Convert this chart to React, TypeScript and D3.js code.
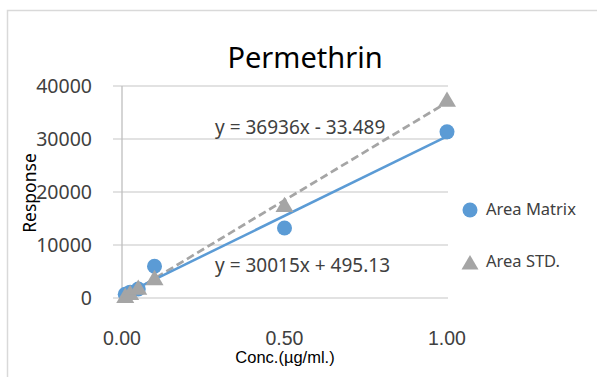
import React from "react";
import * as d3 from "d3";

// Concentration levels (µg/ml)
const concentrations = [0.01, 0.025, 0.05, 0.1, 0.5, 1.0];
// Peak areas
const areaMatrix = [700, 1100, 1700, 6000, 13200, 31350];
const areaStd = [350, 900, 1900, 3700, 17500, 37350];

// Linear fits (slope, intercept)
const fitMatrix = { slope: 30015, intercept: 495.13, label: "y = 30015x + 495.13" };
const fitStd = { slope: 36936, intercept: -33.489, label: "y = 36936x - 33.489" };

const yTicks = [0, 10000, 20000, 30000, 40000];
const xTicks = [0, 0.5, 1.0];

const seriesNames = ["Area Matrix", "Area STD."];
const BLUE = "#5b9bd5";
const GRAY = "#a5a5a5";
const FONT = "'Noto Sans', sans-serif";
const COMPACT_FONT = "'Liberation Sans', Arial, sans-serif";

export default function App() {
  const W = 597;
  const H = 377;
  const x = d3.scaleLinear().domain([0, 1]).range([122, 447]);
  const y = d3.scaleLinear().domain([0, 40000]).range([298, 86]);

  const xMin = d3.min(concentrations) as number;
  const xMax = d3.max(concentrations) as number;

  const fitLine = (f: { slope: number; intercept: number }) =>
    d3
      .line<number>()
      .x((d) => x(d))
      .y((d) => y(f.slope * d + f.intercept))([xMin, xMax]) as string;

  const tri = (cx: number, cy: number, s: number) =>
    `M${cx},${cy - s * 0.95} L${cx + s},${cy + s * 0.75} L${cx - s},${cy + s * 0.75} Z`;

  return (
    <svg
      width={W}
      height={H}
      style={{ position: "absolute", left: 0, top: 0, background: "#fff" }}
      fontFamily={FONT}
    >
      <rect x={7.5} y={10.5} width={640} height={420} fill="#fff" stroke="#d9d9d9" strokeWidth={1.5} />

      {/* Title */}
      <text x={305} y={68} textAnchor="middle" fontSize={29} fill="#000">
        Permethrin
      </text>

      {/* Gridlines */}
      {yTicks.map((t) => (
        <line
          key={t}
          x1={x(0) - 9}
          x2={x(1) + 1}
          y1={y(t)}
          y2={y(t)}
          stroke="#d9d9d9"
          strokeWidth={1.3}
        />
      ))}
      {/* Vertical axis line */}
      <line x1={x(0)} x2={x(0)} y1={y(40000)} y2={y(0)} stroke="#bfbfbf" strokeWidth={1.3} />

      {/* Y tick labels */}
      {yTicks.map((t) => (
        <text key={t} x={92} y={y(t) + 6.5} textAnchor="end" fontSize={19.5} fill="#404040">
          {t}
        </text>
      ))}
      {/* X tick labels */}
      {xTicks.map((t) => (
        <text
          key={t}
          x={x(t)}
          y={345}
          textAnchor="middle"
          fontSize={19.5}
          fontFamily={COMPACT_FONT}
          fill="#404040"
        >
          {d3.format(".2f")(t)}
        </text>
      ))}

      {/* Axis titles */}
      <text x={285} y={363} textAnchor="middle" fontSize={16.5} fontFamily={COMPACT_FONT} fill="#000">
        Conc.(µg/ml.)
      </text>
      <text
        transform={`translate(36,193) rotate(-90)`}
        textAnchor="middle"
        fontSize={17.5}
        fill="#000"
      >
        Response
      </text>

      {/* Trend lines */}
      <path d={fitLine(fitStd)} fill="none" stroke={GRAY} strokeWidth={2.75} strokeDasharray="8,4" />
      <path d={fitLine(fitMatrix)} fill="none" stroke={BLUE} strokeWidth={2.5} />

      {/* Markers */}
      {concentrations.map((c, i) => (
        <circle key={"m" + i} cx={x(c)} cy={y(areaMatrix[i])} r={7.5} fill={BLUE} />
      ))}
      {concentrations.map((c, i) => (
        <path key={"s" + i} d={tri(x(c), y(areaStd[i]), 9)} fill={GRAY} />
      ))}

      {/* Fit equations */}
      <text x={215} y={134} fontSize={19} fill="#404040">
        {fitStd.label}
      </text>
      <text x={215} y={272} fontSize={19} fill="#404040">
        {fitMatrix.label}
      </text>

      {/* Legend */}
      <circle cx={470} cy={210} r={7.5} fill={BLUE} />
      <text x={486} y={215} fontSize={16.5} fill="#404040">
        {seriesNames[0]}
      </text>
      <path d={tri(470, 263, 8.5)} fill={GRAY} />
      <text x={486} y={267} fontSize={16.5} fill="#404040">
        {seriesNames[1]}
      </text>
    </svg>
  );
}
